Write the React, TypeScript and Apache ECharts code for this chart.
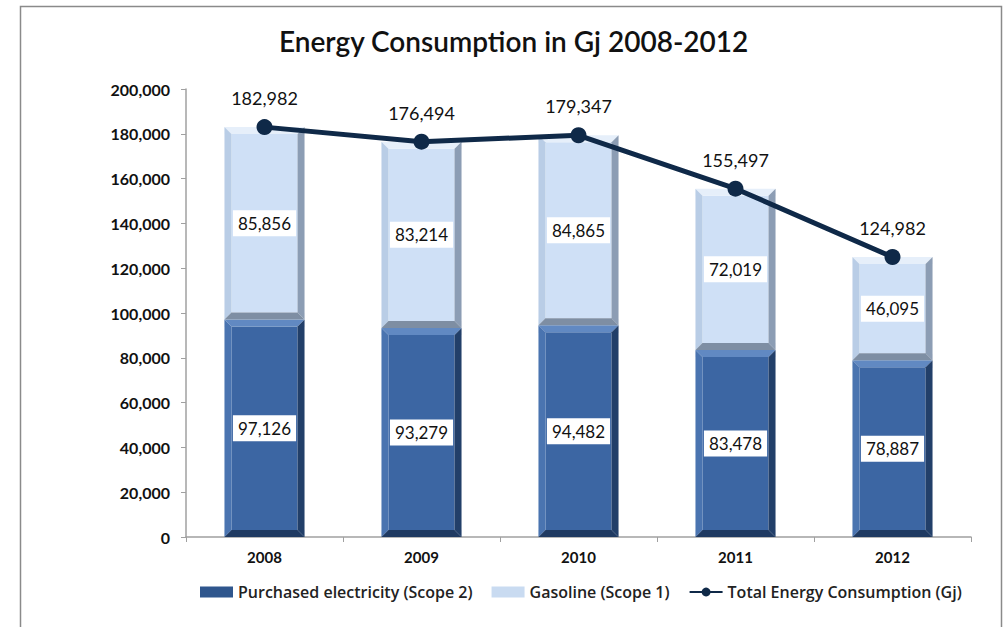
import React, { useEffect, useRef } from "react";
import * as echarts from "echarts";

const categories = ["2008", "2009", "2010", "2011", "2012"];
const electricity = [97126, 93279, 94482, 83478, 78887];
const gasoline = [85856, 83214, 84865, 72019, 46095];
const totals = [182982, 176494, 179347, 155497, 124982];

const FONT = "Lato, 'Noto Sans', sans-serif";
const LEGEND_FONT = "'Open Sans', 'Noto Sans', sans-serif";

type Pal = { face: string; top: string; left: string; right: string; bottom: string };

const elecPal: Pal = {
  face: "#3c66a3",
  top: "#6189c2",
  left: "#4a74b0",
  right: "#223f69",
  bottom: "#1f3a62",
};
const gasPal: Pal = {
  face: "#cfe0f6",
  top: "#e6effa",
  left: "#b9cde6",
  right: "#8c9db4",
  bottom: "#7e8ea3",
};

const fmt = (v: number) => v.toLocaleString("en-US");

function makeRender(pal: Pal) {
  return (params: any, api: any) => {
    const cat = api.value(0);
    const lo = api.value(1);
    const hi = api.value(2);
    const pLo = api.coord([cat, lo]);
    const pHi = api.coord([cat, hi]);
    const w = api.size([1, 0])[0] * 0.51;
    const x0 = pLo[0] - w / 2;
    const x1 = pLo[0] + w / 2;
    const yT = pHi[1];
    const yB = pLo[1];
    const b = 7;
    const poly = (pts: number[][], fill: string) => ({
      type: "polygon",
      shape: { points: pts },
      style: { fill, stroke: null },
    });
    const cx = (x0 + x1) / 2;
    const cy = (yT + yB) / 2;
    return {
      type: "group",
      children: [
        poly([[x0 + b, yT + b], [x1 - b, yT + b], [x1 - b, yB - b], [x0 + b, yB - b]], pal.face),
        poly([[x0, yT], [x1, yT], [x1 - b, yT + b], [x0 + b, yT + b]], pal.top),
        poly([[x0, yT], [x0 + b, yT + b], [x0 + b, yB - b], [x0, yB]], pal.left),
        poly([[x1, yT], [x1, yB], [x1 - b, yB - b], [x1 - b, yT + b]], pal.right),
        poly([[x0, yB], [x0 + b, yB - b], [x1 - b, yB - b], [x1, yB]], pal.bottom),
        {
          type: "text",
          z2: 10,
          style: {
            text: fmt(hi - lo),
            x: cx,
            y: cy,
            align: "center",
            verticalAlign: "middle",
            font: `17px ${FONT}`,
            fill: "#111",
            backgroundColor: "#ffffff",
            padding: [5, 5, 4, 5],
          },
        },
      ],
    };
  };
}

export default function App() {
  const ref = useRef<HTMLDivElement>(null);
  useEffect(() => {
    if (!ref.current) return;
    const chart = echarts.init(ref.current, null, { renderer: "svg" });
    const elecData = electricity.map((v, i) => [i, 0, v]);
    const gasData = gasoline.map((v, i) => [i, electricity[i], electricity[i] + v]);
    chart.setOption({
      animation: false,
      backgroundColor: "#ffffff",
      title: {
        text: "Energy Consumption in Gj 2008-2012",
        left: 274,
        top: 22,
        textStyle: { fontFamily: FONT, fontSize: 28, fontWeight: 600, color: "#111" },
      },
      graphic: [
        {
          type: "rect",
          shape: { x: 20.5, y: 6.5, width: 981, height: 640 },
          style: { fill: "none", stroke: "#8a8a8a", lineWidth: 1.5 },
          silent: true,
        },
      ],
      grid: { left: 186, right: 34, top: 89, bottom: 90 },
      legend: {
        bottom: 22,
        left: 195,
        itemWidth: 33,
        itemHeight: 11,
        itemGap: 19,
        textStyle: { fontFamily: LEGEND_FONT, fontSize: 16, fontWeight: 600, color: "#222" },
        data: [
          { name: "Purchased electricity (Scope 2)", icon: "rect" },
          { name: "Gasoline (Scope 1)", icon: "rect" },
          { name: "Total Energy Consumption (Gj)" },
        ],
      },
      xAxis: {
        type: "category",
        data: categories,
        axisLine: { lineStyle: { color: "#a0a0a0", width: 1.5 } },
        axisTick: { show: true, length: 5, lineStyle: { color: "#a0a0a0" } },
        axisLabel: {
          fontFamily: FONT,
          fontSize: 15,
          fontWeight: "bold",
          color: "#111",
          margin: 12,
        },
      },
      yAxis: {
        type: "value",
        min: 0,
        max: 200000,
        interval: 20000,
        axisLine: { show: true, lineStyle: { color: "#a0a0a0", width: 1.5 } },
        axisTick: { show: true, length: 5, lineStyle: { color: "#a0a0a0" } },
        splitLine: { show: false },
        axisLabel: {
          fontFamily: FONT,
          fontSize: 16,
          fontWeight: "bold",
          color: "#111",
          margin: 16,
          formatter: (v: number) => fmt(v),
        },
      },
      series: [
        {
          name: "Purchased electricity (Scope 2)",
          type: "custom",
          renderItem: makeRender(elecPal),
          itemStyle: { color: "#2f568d" },
          encode: { x: 0, y: [1, 2] },
          data: elecData,
          z: 2,
        },
        {
          name: "Gasoline (Scope 1)",
          type: "custom",
          renderItem: makeRender(gasPal),
          itemStyle: { color: "#c9dbf1" },
          encode: { x: 0, y: [1, 2] },
          data: gasData,
          z: 2,
        },
        {
          name: "Total Energy Consumption (Gj)",
          type: "line",
          data: totals,
          symbol: "circle",
          symbolSize: 16,
          z: 5,
          itemStyle: { color: "#0f2948" },
          lineStyle: { color: "#0f2948", width: 5 },
          label: {
            show: true,
            position: "top",
            distance: 12,
            fontFamily: FONT,
            fontSize: 18,
            color: "#111",
            formatter: (p: any) => fmt(p.value),
          },
        },
      ],
    });
    return () => chart.dispose();
  }, []);
  return (
    <div
      ref={ref}
      style={{ position: "absolute", left: 0, top: 0, width: 1005, height: 627 }}
    />
  );
}
